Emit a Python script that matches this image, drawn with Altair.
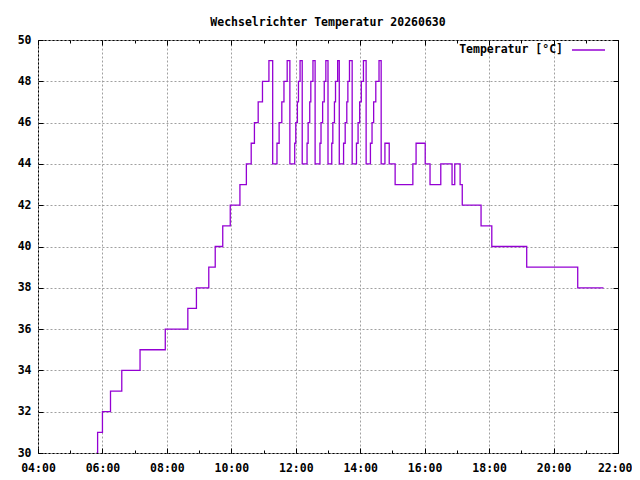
import altair as alt
import pandas as pd

# ---- data ----
day = "2026-06-30"
times = [
    "05:49", "05:51", "06:00", "06:15", "06:36", "07:10", "07:57", "08:39", "08:55", "09:18",
    "09:30", "09:44", "09:58", "10:16", "10:28", "10:37", "10:43", "10:50", "10:58", "11:10",
    "11:17", "11:25", "11:29", "11:34", "11:38", "11:44", "11:49", "11:58", "12:00", "12:03",
    "12:05", "12:08", "12:12", "12:21", "12:23", "12:26", "12:28", "12:32", "12:36", "12:45",
    "12:47", "12:50", "12:53", "12:56", "13:00", "13:07", "13:09", "13:12", "13:14", "13:18",
    "13:21", "13:29", "13:32", "13:35", "13:37", "13:40", "13:45", "13:53", "13:56", "13:59",
    "14:02", "14:06", "14:11", "14:19", "14:22", "14:25", "14:29", "14:35", "14:39", "14:46",
    "14:54", "15:05", "15:38", "15:44", "16:01", "16:10", "16:30", "16:51", "16:56", "17:06",
    "17:10", "17:45", "18:05", "19:10", "20:45", "21:33",
]
temps = [
    30, 31, 32, 33, 34, 35, 36, 37, 38, 39,
    40, 41, 42, 43, 44, 45, 46, 47, 48, 49,
    44, 45, 46, 47, 48, 49, 44, 45, 46, 47,
    48, 49, 44, 45, 46, 47, 48, 49, 44, 45,
    46, 47, 48, 49, 44, 45, 46, 47, 48, 49,
    44, 45, 46, 47, 48, 49, 44, 45, 46, 47,
    48, 49, 44, 45, 46, 47, 48, 49, 44, 45,
    44, 43, 44, 45, 44, 43, 44, 43, 44, 43,
    42, 41, 40, 39, 38, 38,
]
series_name = "Temperatur [°C]"
title_text = "Wechselrichter Temperatur 20260630"
x_hours_major = list(range(4, 21, 2))   # labelled + grid
x_hour_last = [22]                       # last label (right edge)
x_hours_ticks = list(range(4, 23, 2))
x_hours_minor = list(range(4, 23, 1))
y_ticks = list(range(30, 51, 2))
y_domain = [30, 50]
line_color = "#9400D3"

df = pd.DataFrame({
    "time": [f"{day}T{t}:00" for t in times],
    "temp": temps,
})
key_df = pd.DataFrame({"series": [series_name]})

FONT = "DejaVu Sans Mono"
FS = 11.5


def dt(h):
    return alt.DateTime(year=2026, month=6, date=30, hours=h)


x_scale = alt.Scale(domain=[dt(4), dt(22)])
y_scale = alt.Scale(domain=y_domain, nice=False, zero=False)

main = alt.Chart(df).mark_line(
    interpolate="step-after", strokeWidth=1.3, clip=True, color=line_color
).encode(
    x=alt.X("time:T", scale=x_scale, axis=alt.Axis(
        orient="bottom", values=[dt(h) for h in x_hours_major], format="%H:%M",
        grid=True, ticks=False, tickSize=0, domain=False, labelPadding=9,
        labelFlush=False, title=None, labelOverlap=False)),
    y=alt.Y("temp:Q", scale=y_scale, axis=alt.Axis(
        orient="left", values=y_ticks, grid=True, ticks=False, tickSize=0,
        domain=False, labelPadding=7, labelFlush=False, title=None)),
)

last_label = alt.Chart(df).mark_point(opacity=0, size=1).encode(
    x=alt.X("time:T", scale=x_scale, axis=alt.Axis(
        orient="bottom", values=[dt(h) for h in x_hour_last], format="%H:%M",
        grid=False, ticks=False, tickSize=0, domain=False, labelPadding=9,
        labelFlush=True, labelFlushOffset=14, title=None, labelOverlap=False)),
    y=alt.Y("temp:Q", scale=y_scale, axis=None),
)

# key (gnuplot style: text on the left, line sample on the right)
key_text = alt.Chart(key_df).mark_text(
    align="right", baseline="middle", font=FONT, fontSize=FS, fontWeight="bold",
    color="black"
).encode(x=alt.value(525), y=alt.value(10), text="series:N")
key_line = alt.Chart(key_df).mark_rule(color=line_color, strokeWidth=1.3).encode(
    x=alt.value(534), x2=alt.value(567), y=alt.value(10)
)


def x_tick_layer(orient, values, size):
    return alt.Chart(df).mark_point(opacity=0, size=1).encode(
        x=alt.X("time:T", scale=x_scale, axis=alt.Axis(
            orient=orient, values=[dt(h) for h in values], labels=False, grid=False,
            domain=False, ticks=True, tickSize=size, offset=-size, title=None,
            tickColor="black", tickWidth=1)),
        y=alt.Y("temp:Q", scale=y_scale, axis=None),
    )


def y_tick_layer(orient, values, size):
    return alt.Chart(df).mark_point(opacity=0, size=1).encode(
        x=alt.X("time:T", scale=x_scale, axis=None),
        y=alt.Y("temp:Q", scale=y_scale, axis=alt.Axis(
            orient=orient, values=values, labels=False, grid=False,
            domain=False, ticks=True, tickSize=size, offset=-size, title=None,
            tickColor="black", tickWidth=1)),
    )


chart = alt.layer(
    main,
    last_label,
    x_tick_layer("bottom", x_hours_ticks, 5),
    x_tick_layer("bottom", x_hours_minor, 3),
    x_tick_layer("top", x_hours_ticks, 5),
    x_tick_layer("top", x_hours_minor, 3),
    y_tick_layer("left", y_ticks, 5),
    y_tick_layer("right", y_ticks, 5),
    key_text,
    key_line,
).resolve_axis(x="independent", y="independent").properties(
    width=580,
    height=413,
    title=alt.TitleParams(title_text, font=FONT, fontSize=FS, fontWeight="bold",
                          color="black", anchor="middle", offset=16, dy=19,
                          baseline="alphabetic"),
    autosize=alt.AutoSizeParams(type="none"),
    padding={"left": 30, "top": 32, "right": 14, "bottom": 20},
    background="white",
).configure_view(
    stroke="black", strokeWidth=1
).configure_axis(
    labelFont=FONT, labelFontSize=FS, labelFontWeight="bold", labelColor="black",
    gridColor="#a0a0a0", gridDash=[2, 2], gridWidth=1, gridOpacity=1,
)

chart.save("out.html", embed_options={"renderer": "svg", "actions": False})
